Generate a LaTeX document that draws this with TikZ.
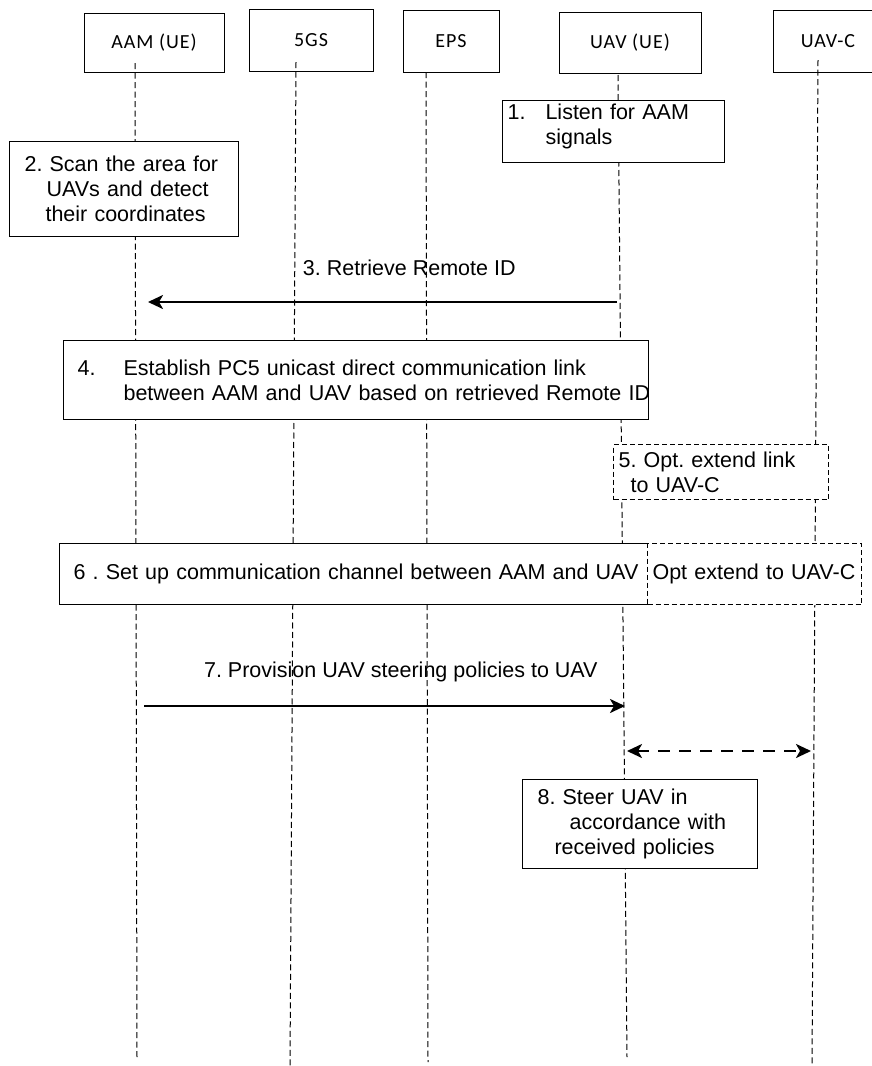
\documentclass[tikz,border=0pt]{standalone}
\usepackage{fontspec}
\setmainfont{Liberation Sans}
\newfontfamily\headfont[LetterSpace=5]{Carlito}
\usetikzlibrary{arrows.meta}

\begin{document}
\begin{tikzpicture}[x=1pt, y=-1pt,
    every node/.style={font=\fontsize{21.5}{25}\selectfont\frenchspacing},
    actor/.style={draw, line width=0.9pt, inner sep=0pt, font=\headfont\fontsize{20}{24}\selectfont},
    lifeline/.style={line width=1pt, dash pattern=on 6pt off 3.5pt},
    stepbox/.style={draw, line width=1.1pt, fill=white, align=left, anchor=north west, inner ysep=0pt},
    optbox/.style={stepbox, dash pattern=on 5pt off 3pt},
    msg/.style={line width=2.5pt, -{Stealth[length=15pt, width=14pt, inset=4pt]}},
    ctrl/.style={line width=2.5pt, dash pattern=on 12pt off 9pt,
        {Stealth[length=15pt, width=14pt, inset=4pt]}-{Stealth[length=15pt, width=14pt, inset=4pt]}},
    msglabel/.style={inner sep=0pt}]
    \useasboundingbox (0,0) rectangle (871,1066);

    % actors
    \node[actor, minimum width=140pt, minimum height=59pt] (aam) at (154,42.5) {AAM (UE)};
    \node[actor, minimum width=124pt, minimum height=62pt] (fivegs) at (311,40) {5GS};
    \node[actor, minimum width=96pt, minimum height=62pt] (eps) at (451,41) {EPS};
    \node[actor, minimum width=142pt, minimum height=61pt] (uav) at (630,42.5) {UAV (UE)};
    \node[actor, minimum width=110pt, minimum height=62pt] (uavc) at (828,41) {UAV-C};

    % lifelines
    \foreach \n/\xa/\ya/\xb/\yb in {aam/135/63/137/1057, fivegs/296/62/290/1066,
        eps/426/72/428/1062, uav/618/75/627/1057, uavc/818/60/812/1066}
    {
        \coordinate (\n-top) at (\xa,\ya);
        \coordinate (\n-end) at (\xb,\yb);
        \draw[lifeline] (\n-top) -- (\n-end);
    }

    % steps
    \node[stepbox, text width=212pt, inner xsep=5pt, minimum height=62pt] (listen) at (502,100) {%
        \makebox[38pt][l]{1.}Listen for AAM\\\hspace*{38pt}signals\\[-9.5pt]\mbox{}%
    };
    \node[stepbox, text width=199pt, inner xsep=15pt, minimum height=95pt] (scan) at (9,141) {%
        \mbox{2. Scan the area for}\\\hspace*{22pt}UAVs and detect\\\hspace*{21pt}their coordinates%
    };
    \node[stepbox, text width=557pt, inner xsep=14pt, minimum height=79pt] (pcfive) at (63,340) {%
        \makebox[46pt][l]{4.}Establish PC5 unicast direct communication link\\
        \hspace*{46pt}\mbox{between AAM and UAV based on retrieved Remote ID}%
    };
    \node[optbox, text width=205pt, inner xsep=5pt, minimum height=55pt] (optlink) at (613,444) {%
        5. Opt. extend link\\\hspace*{12pt}to UAV-C%
    };
    \node[stepbox, text width=561pt, inner xsep=14pt, minimum height=61pt] (channel) at (59,543) {%
        \mbox{6 . Set up communication channel between AAM and UAV}%
    };
    \node[optbox, text width=204pt, inner xsep=5pt, minimum height=61pt] (optchan) at (647,543) {%
        \mbox{Opt extend to UAV-C}%
    };
    \node[stepbox, text width=205pt, inner xsep=15pt, minimum height=89pt] (steer) at (522,779) {%
        8. Steer UAV in\\\hspace*{32pt}accordance with\\\hspace*{17pt}received policies%
    };

    % messages
    \coordinate (rid-from) at (617,302);
    \coordinate (rid-to) at (148,302);
    \draw[msg] (rid-from) -- node[msglabel, pos=.443, yshift=34pt] {3. Retrieve Remote ID} (rid-to);
    \coordinate (pol-from) at (144,706);
    \coordinate (pol-to) at (625,706);
    \draw[msg] (pol-from) -- node[msglabel, pos=.534, yshift=34pt] {7. Provision UAV steering policies to UAV} (pol-to);
    \coordinate (ctl-a) at (627,751);
    \coordinate (ctl-b) at (811,751);
    \draw[ctrl] (ctl-a) -- (ctl-b);
\end{tikzpicture}
\end{document}
